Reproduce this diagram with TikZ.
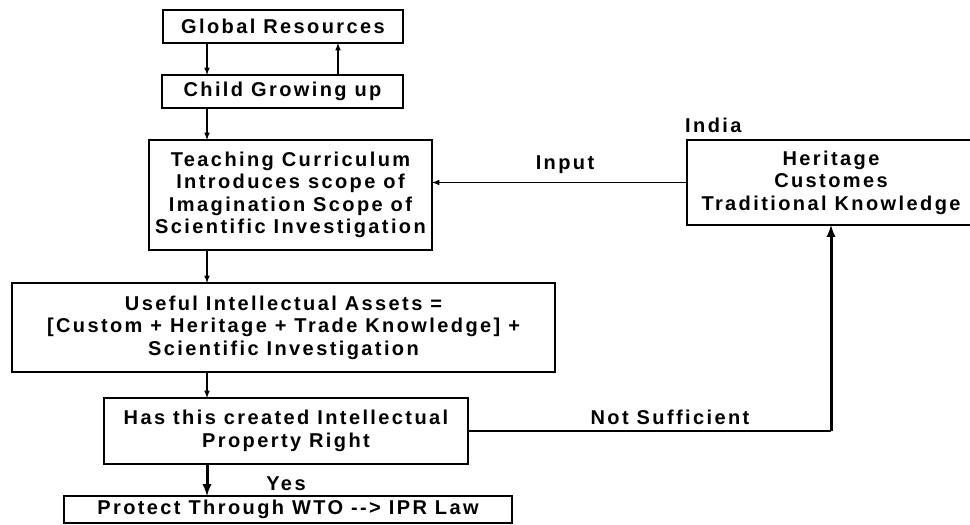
\documentclass[tikz,border=0pt]{standalone}
\usepackage{fontspec}
\setmainfont{Liberation Sans}[LetterSpace=12]
\usetikzlibrary{arrows}
\tikzset{%
    box/.style={inner sep=0pt,outer sep=0pt,shape=rectangle,draw,line width=1.5pt,align=center,font=\bfseries\fontsize{20}{22.5}\selectfont},
    flow/.style={->,>=latex,line width=1.5pt},
    heavy flow/.style={->,>=latex,line width=3pt},
    tag/.style={inner sep=0pt,font=\bfseries\fontsize{20}{22.5}\selectfont},
}

\begin{document}
\begin{tikzpicture}[x=1pt,y=-1pt]
      \useasboundingbox (0,0) rectangle (970,525);
      \clip (0,0) rectangle (970,525);
      \coordinate (spine) at (207,0);
      \coordinate (back) at (338,0);

      \node [box,minimum width=240pt,minimum height=33pt] (gres) at (283,26.5) {Global Resources};
      \node [box,minimum width=241pt,minimum height=33pt] (child) at (282.5,91.5) {Child Growing up};
      \node [box,minimum width=283pt,minimum height=110pt] (teach) at (290.5,195) {Teaching Curriculum\\Introduces scope of\\Imagination Scope of\\Scientific Investigation};
      \node [box,minimum width=288pt,minimum height=85pt] (herit) at (831,182.5) {Heritage\\Customes\\Traditional Knowledge};
      \node [box,minimum width=543pt,minimum height=89pt] (useful) at (283.5,327.5) {Useful Intellectual Assets =\\{}[Custom + Heritage + Trade Knowledge] +\\Scientific Investigation};
      \node [box,minimum width=364pt,minimum height=66pt] (has) at (286,431) {Has this created Intellectual\\Property Right};
      \node [box,minimum width=448pt,minimum height=27pt] (prot) at (288,509.5) {Protect Through WTO -{}-> IPR Law};

      \node [tag,anchor=west] (india) at (685,125) {India};
      \node [tag] (input) at (565,165) {Input};
      \node [tag] (notsuff) at (670,417) {Not Sufficient};
      \node [tag] (yes) at (286,484) {Yes};

      \draw [flow] (spine |- gres.south) -- (spine |- child.north);
      \draw [flow] (back |- child.north) -- (back |- gres.south);
      \draw [flow] (spine |- child.south) -- (spine |- teach.north);
      \draw [flow] (herit.west) -- (herit.west -| teach.east);
      \draw [flow] (spine |- teach.south) -- (spine |- useful.north);
      \draw [flow] (spine |- useful.south) -- (spine |- has.north);
      \draw [heavy flow] (spine |- has.south) -- (spine |- prot.north);

      \draw [line width=1.5pt] (has.east) -- (has.east -| herit.south) coordinate (turn);
      \draw [heavy flow] (turn) -- (herit.south);
    \end{tikzpicture}
\end{document}
